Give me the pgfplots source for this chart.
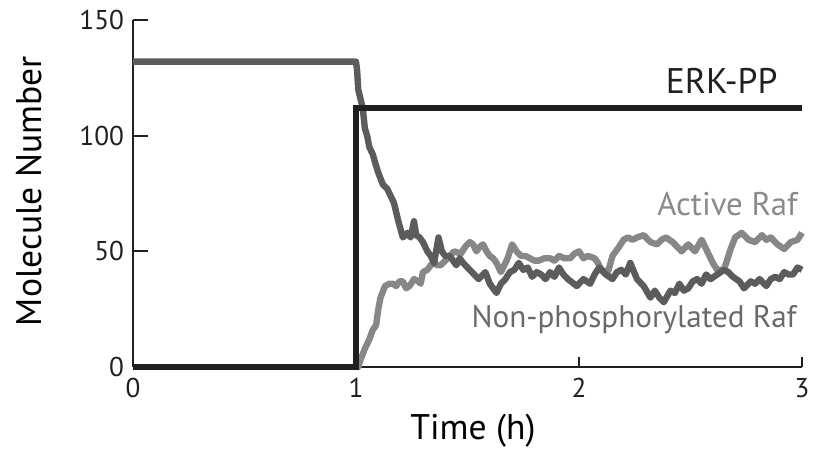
\documentclass[border=0pt]{standalone}
\usepackage{pgfplots}
\pgfplotsset{compat=1.18}
\usepackage{fontspec}
\setmainfont{PT Sans}
\definecolor{erk}{HTML}{231F20}
\definecolor{nonp}{HTML}{5C5C5C}
\definecolor{act}{HTML}{878787}
\definecolor{nonptxt}{HTML}{6A6A6A}
\definecolor{acttxt}{HTML}{8A8A8A}
\begin{document}
\begin{tikzpicture}
\begin{axis}[
  at={(0,0)}, anchor=origin,
  scale only axis,
  width=334.5pt, height=173.5pt,
  xmin=0, xmax=3, ymin=0, ymax=150,
  axis x line=bottom, axis y line=left,
  axis line style={-, line width=0.9pt, color=erk},
  xtick={0,1,2,3}, ytick={0,50,100,150},
  tick align=inside,
  major tick length=5pt,
  y tick style={/pgfplots/major tick length=7.5pt},
  tick style={line width=0.9pt, color=erk},
  /pgf/number format/assume math mode=true,
  ticklabel style={font=\fontsize{13.6}{16}\selectfont, color=erk},
  xticklabel style={yshift=-2pt},
  yticklabel style={xshift=-1pt},
  every axis x label/.style={at={([xshift=2.75pt,yshift=-36.5pt]axis description cs:0.5,0)}, anchor=base, font=\fontsize{17.8}{20}\selectfont},
  every axis y label/.style={at={([xshift=-45.5pt,yshift=1.25pt]axis description cs:0,0.5)}, rotate=90, anchor=base, font=\fontsize{17.8}{20}\selectfont},
  xlabel={Time (h)},
  ylabel={Molecule Number},
  clip=false,
]
\addplot[act, line width=3.2pt, line join=round] coordinates {
(1.0,0) (1.01,0) (1.02,3) (1.04,8) (1.06,12) (1.075,16) (1.09,18) (1.10,25) (1.11,30)
(1.13,35) (1.15,36) (1.165,36) (1.18,35) (1.195,37) (1.21,37) (1.225,34) (1.24,35)
(1.26,38) (1.28,37) (1.29,36) (1.30,41) (1.32,42) (1.335,44) (1.35,45) (1.365,44)
(1.38,44) (1.41,47) (1.44,50) (1.47,49) (1.49,52) (1.51,54) (1.525,53) (1.54,50)
(1.555,52) (1.57,53) (1.585,50) (1.60,48) (1.615,47) (1.63,45) (1.65,41) (1.665,44)
(1.68,47) (1.70,53) (1.72,50) (1.74,48) (1.76,48) (1.78,47) (1.80,46) (1.82,46)
(1.845,47) (1.87,47) (1.89,46) (1.91,48) (1.935,47) (1.96,47) (1.98,49) (2.0,50)
(2.02,47) (2.04,48) (2.07,47) (2.085,45) (2.10,42) (2.13,41) (2.15,48) (2.18,52)
(2.20,55) (2.22,56) (2.24,55) (2.26,56) (2.29,57) (2.32,54) (2.35,53) (2.37,55)
(2.39,56) (2.42,54) (2.44,52) (2.46,50) (2.49,53) (2.52,50) (2.55,55) (2.57,51)
(2.60,45) (2.62,42) (2.65,42) (2.68,51) (2.70,56) (2.73,58) (2.76,55) (2.79,54)
(2.82,57) (2.84,55) (2.86,56) (2.89,53) (2.92,51) (2.95,54) (2.98,55) (3.0,58)
};
\addplot[nonp, line width=3.2pt, line join=round] coordinates {
(0,132) (1.0,132) (1.005,128) (1.01,120) (1.02,116) (1.03,112) (1.04,103) (1.05,100)
(1.06,95) (1.075,92) (1.09,87) (1.1,84) (1.12,79) (1.14,77) (1.155,74) (1.17,71)
(1.18,67) (1.19,63) (1.21,56) (1.23,58) (1.245,56) (1.26,63) (1.27,57) (1.285,56)
(1.30,54) (1.32,50) (1.335,48) (1.35,45) (1.37,56) (1.385,50) (1.40,48) (1.42,48)
(1.435,46) (1.45,44) (1.465,47) (1.48,45) (1.50,43) (1.52,41) (1.55,38) (1.58,41)
(1.60,36) (1.63,32) (1.65,36) (1.67,38) (1.69,41) (1.71,42) (1.73,45) (1.75,42)
(1.77,43) (1.79,39) (1.81,41) (1.83,40) (1.85,38) (1.87,41) (1.89,39) (1.91,43)
(1.93,40) (1.95,38) (1.99,35) (2.02,38) (2.05,36) (2.07,40) (2.09,43) (2.12,40)
(2.15,38) (2.17,41) (2.19,42) (2.21,40) (2.23,45) (2.26,38) (2.29,35) (2.32,30)
(2.34,33) (2.36,30) (2.38,28) (2.41,33) (2.43,32) (2.45,36) (2.47,33) (2.49,34)
(2.51,37) (2.53,38) (2.55,36) (2.57,40) (2.59,38) (2.62,40) (2.65,42) (2.67,41)
(2.69,39) (2.72,37) (2.74,34) (2.77,37) (2.79,36) (2.81,38) (2.84,35) (2.86,38)
(2.88,39) (2.90,38) (2.92,41) (2.94,40) (2.96,40) (2.98,43) (3.0,42)
};
\addplot[erk, line width=3pt, line join=miter] coordinates {
(0,0) (1,0) (1,112) (3,112)
};
\node[anchor=base east, inner sep=0pt, text=erk, font=\fontsize{17.8}{20}\selectfont] at (axis cs:2.892,118.4) {ERK-PP};
\node[anchor=base east, inner sep=0pt, text=acttxt, font=\fontsize{16.4}{19}\selectfont] at (axis cs:2.982,65.7) {Active Raf};
\node[anchor=base east, inner sep=0pt, text=nonptxt, font=\fontsize{15.6}{18}\selectfont] at (axis cs:2.978,16.9) {Non-phosphorylated Raf};
\end{axis}
\pgfresetboundingbox
\path[use as bounding box] (-66.5pt,-43.5pt) rectangle (340pt,183.5pt);
\end{tikzpicture}
\end{document}
